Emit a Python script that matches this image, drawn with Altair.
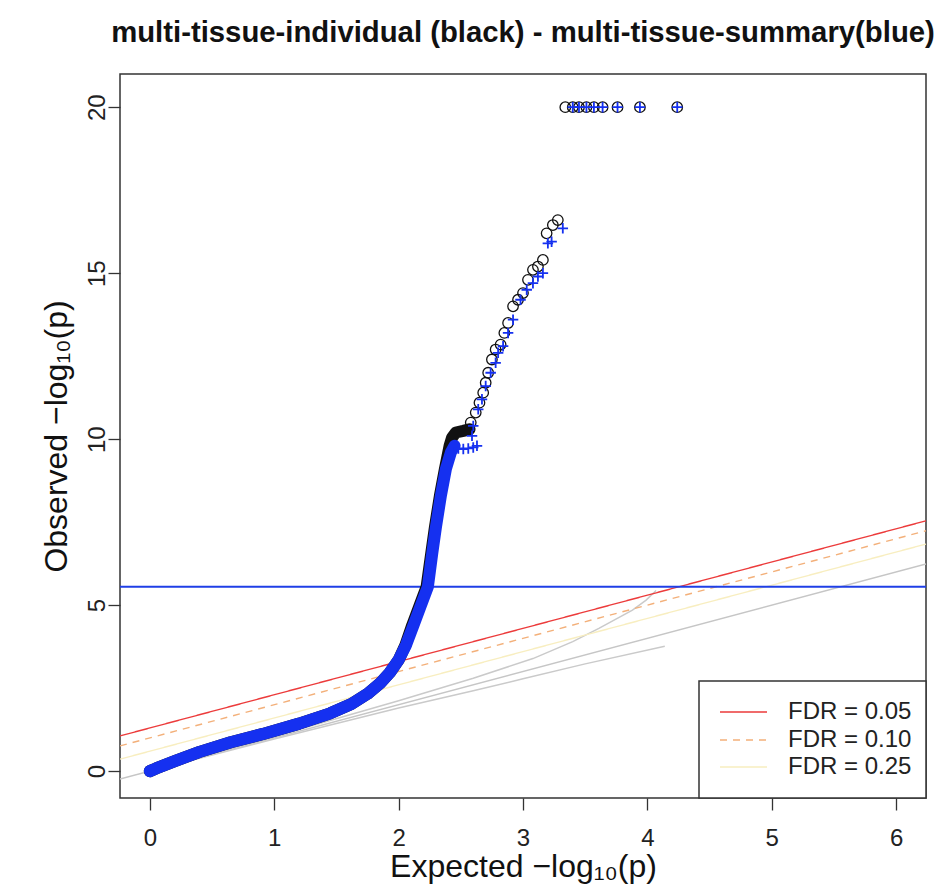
import altair as alt
import pandas as pd

TITLE = "multi-tissue-individual (black) - multi-tissue-summary(blue)"
X_TITLE = "Expected  \u2212log\u2081\u2080(p)"
Y_TITLE = "Observed  \u2212log\u2081\u2080(p)"
FONT = "Liberation Sans"

x_ticks = [0, 1, 2, 3, 4, 5, 6]
y_ticks = [0, 5, 10, 15, 20]
x_domain = [-0.24, 6.24]
y_domain = [-0.81, 21.0]

# dense part of the summary (blue) curve
band_blue_x = [0.00, 0.05, 0.20, 0.40, 0.65, 0.91, 1.20, 1.45, 1.62, 1.75, 1.85, 1.93,
               2.00, 2.06, 2.12, 2.18, 2.235, 2.27, 2.30, 2.34, 2.38, 2.42, 2.45]
band_blue_y = [0.00, 0.08, 0.30, 0.58, 0.87, 1.12, 1.43, 1.74, 2.02, 2.33, 2.64, 2.97,
               3.35, 3.80, 4.40, 5.00, 5.55, 6.55, 7.35, 8.30, 9.10, 9.60, 9.80]

# dense part of the individual (black) curve, incl. the tied run near 10.2
band_black_x = [0.00, 0.05, 0.20, 0.40, 0.65, 0.91, 1.20, 1.45, 1.62, 1.75, 1.85, 1.93,
                2.00, 2.055, 2.11, 2.17, 2.225, 2.262, 2.292, 2.332, 2.372, 2.41, 2.43,
                2.46, 2.52, 2.57]
band_black_y = [0.00, 0.08, 0.30, 0.58, 0.87, 1.12, 1.43, 1.74, 2.02, 2.33, 2.64, 2.97,
                3.35, 3.80, 4.40, 5.00, 5.55, 6.55, 7.35, 8.30, 9.10, 9.80, 10.05,
                10.20, 10.25, 10.30]

# sparse individual points (black circles)
ind_x = [2.58, 2.62, 2.65, 2.68, 2.70, 2.72, 2.75, 2.78, 2.82, 2.85, 2.88, 2.92, 2.96,
         3.00, 3.04, 3.08, 3.12, 3.16, 3.19, 3.24, 3.28,
         3.34, 3.40, 3.45, 3.51, 3.57, 3.64, 3.76, 3.94, 4.24]
ind_y = [10.5, 10.8, 11.1, 11.4, 11.7, 12.0, 12.4, 12.7, 12.85, 13.2, 13.5, 14.0, 14.2,
         14.4, 14.8, 15.1, 15.2, 15.4, 16.2, 16.45, 16.6,
         20, 20, 20, 20, 20, 20, 20, 20, 20]

# sparse summary points (blue plus)
sum_x = [2.48, 2.52, 2.56, 2.60, 2.63, 2.59, 2.60, 2.64, 2.67, 2.70, 2.74, 2.78, 2.80,
         2.84, 2.88, 2.92, 2.98, 3.03, 3.08, 3.12, 3.16, 3.20, 3.23, 3.32,
         3.40, 3.45, 3.51, 3.57, 3.64, 3.76, 3.94, 4.24]
sum_y = [9.72, 9.70, 9.72, 9.75, 9.80, 10.1, 10.4, 10.9, 11.2, 11.6, 12.0, 12.3, 12.6,
         12.8, 13.2, 13.6, 14.2, 14.5, 14.7, 14.9, 15.0, 15.9, 15.95, 16.35,
         20, 20, 20, 20, 20, 20, 20, 20]

# grey reference: diagonal and confidence band
diag_x = [-0.24, 6.24]
diag_y = [-0.24, 6.24]
upper_x = [0.00, 1.00, 2.00, 2.60, 3.08, 3.40, 3.61, 3.88, 3.99, 4.07]
upper_y = [0.00, 1.04, 2.12, 2.80, 3.39, 3.90, 4.30, 4.85, 5.15, 5.44]
lower_x = [0.00, 1.00, 2.00, 2.60, 3.00, 3.50, 4.14]
lower_y = [0.00, 0.97, 1.90, 2.42, 2.78, 3.23, 3.76]

# FDR lines (slope 1), intercepts
fdr_labels = ["FDR = 0.05", "FDR = 0.10", "FDR = 0.25"]
fdr_intercepts = [1.30, 1.00, 0.60]
fdr_colors = ["#ec3b3b", "#f3b07a", "#f8eec0"]
fdr_dashes = [[1, 0], [7, 6], [1, 0]]

threshold = 5.55

xs = alt.Scale(domain=x_domain, nice=False, zero=False)
ys = alt.Scale(domain=y_domain, nice=False, zero=False)

x_axis = alt.Axis(values=x_ticks, title=X_TITLE, domain=False, grid=False,
                  tickSize=12, tickColor="#333333", tickWidth=1.3,
                  labelFont=FONT, labelFontSize=24, labelColor="#222222",
                  labelPadding=16, titleFont=FONT, titleFontSize=32,
                  titleFontWeight="normal", titleColor="#111111",
                  titleBaseline="alphabetic", titleX=403, titleY=78)
y_axis = alt.Axis(values=y_ticks, title=Y_TITLE, domain=False, grid=False,
                  tickSize=12, tickColor="#333333", tickWidth=1.3,
                  labelFont=FONT, labelFontSize=24, labelColor="#222222",
                  labelAngle=270, labelAlign="center", labelBaseline="alphabetic",
                  labelPadding=4, titleFont=FONT, titleFontSize=32,
                  titleFontWeight="normal", titleColor="#111111",
                  titleAngle=270, titleBaseline="alphabetic", titleX=-54, titleY=362)


def xy():
    return dict(
        x=alt.X("x:Q", scale=xs, axis=x_axis),
        y=alt.Y("y:Q", scale=ys, axis=y_axis),
    )


diag = alt.Chart(pd.DataFrame({"x": diag_x, "y": diag_y})).mark_line(
    color="#c6c6c6", strokeWidth=1.5, clip=True).encode(**xy())
upper = alt.Chart(pd.DataFrame({"x": upper_x, "y": upper_y})).mark_line(
    color="#cacaca", strokeWidth=1.5, clip=True).encode(**xy())
lower = alt.Chart(pd.DataFrame({"x": lower_x, "y": lower_y})).mark_line(
    color="#cacaca", strokeWidth=1.5, clip=True).encode(**xy())

fdr_layers = []
for lab, b, col, dash in zip(fdr_labels, fdr_intercepts, fdr_colors, fdr_dashes):
    d = pd.DataFrame({"x": x_domain, "y": [x_domain[0] + b, x_domain[1] + b]})
    fdr_layers.append(
        alt.Chart(d).mark_line(color=col, strokeWidth=1.4, strokeDash=dash, clip=True)
        .encode(**xy())
    )

hline = alt.Chart(pd.DataFrame({"y": [threshold]})).mark_rule(
    color="#1f3fe6", strokeWidth=2).encode(y=alt.Y("y:Q", scale=ys, axis=y_axis))

band_black = alt.Chart(pd.DataFrame({"x": band_black_x, "y": band_black_y,
                                     "o": range(len(band_black_x))})).mark_line(
    color="#111111", strokeWidth=12, strokeCap="round", strokeJoin="round", clip=True
).encode(order="o:Q", **xy())
band_blue = alt.Chart(pd.DataFrame({"x": band_blue_x, "y": band_blue_y,
                                    "o": range(len(band_blue_x))})).mark_line(
    color="#1530f0", strokeWidth=12, strokeCap="round", strokeJoin="round", clip=True
).encode(order="o:Q", **xy())

ind_pts = alt.Chart(pd.DataFrame({"x": ind_x, "y": ind_y})).mark_point(
    shape="circle", filled=False, color="#111111", strokeWidth=1.3, size=110, opacity=1
).encode(**xy())
sum_pts = alt.Chart(pd.DataFrame({"x": sum_x, "y": sum_y})).mark_point(
    shape="M-1,0L1,0M0,-1L0,1", filled=False, color="#1530f0", strokeWidth=1.8,
    size=110, opacity=1
).encode(**xy())

# legend box (bottom-right, inside the plot)
one = pd.DataFrame({"k": [0]})
leg_box = alt.Chart(one).mark_rect(fill="white", stroke="#333333", strokeWidth=1.5).encode(
    x=alt.value(579), x2=alt.value(806), y=alt.value(607), y2=alt.value(724))
leg_layers = [leg_box]
row_y = [638, 666, 693]
for lab, col, dash, ry in zip(fdr_labels, fdr_colors, fdr_dashes, row_y):
    ld = pd.DataFrame({"label": [lab]})
    leg_layers.append(alt.Chart(ld).mark_rule(color=col, strokeWidth=1.4, strokeDash=dash).encode(
        x=alt.value(600), x2=alt.value(647), y=alt.value(ry)))
    leg_layers.append(alt.Chart(ld).mark_text(
        align="left", baseline="middle", font=FONT, fontSize=24, color="#222222"
    ).encode(x=alt.value(668), y=alt.value(ry), text="label:N"))

chart = alt.layer(
    diag, upper, lower, *fdr_layers, hline, band_black, band_blue, ind_pts, sum_pts,
    *leg_layers
).properties(
    width=806, height=724,
    title=alt.TitleParams(TITLE, font=FONT, fontSize=29.3, fontWeight="bold",
                          color="#111111", anchor="middle", offset=26),
    padding={"left": 120, "top": 74, "right": 17, "bottom": 87},
    autosize=alt.AutoSizeParams(type="none"),
    background="white",
).configure_view(stroke="#333333", strokeWidth=1.5)

chart.save("out.html", embed_options={"renderer": "svg", "actions": False})
